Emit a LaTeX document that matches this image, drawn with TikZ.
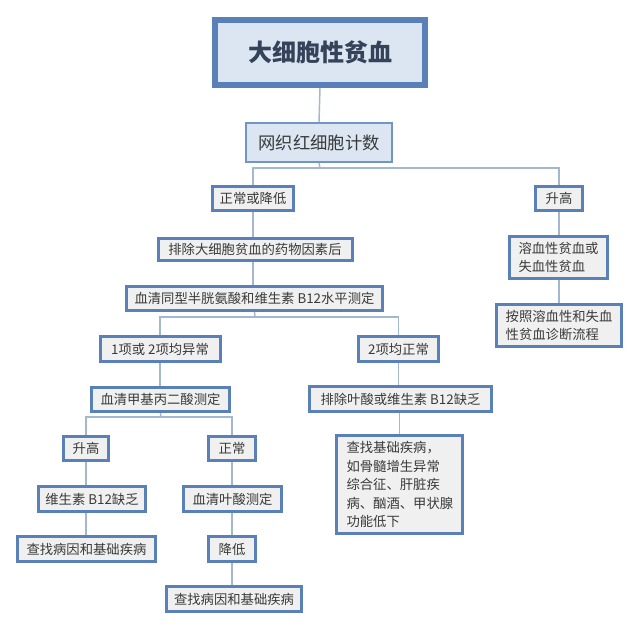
\documentclass[tikz,border=0pt]{standalone}
\usepackage{fontspec}
\newfontfamily\cjk{Noto Sans CJK SC}
\definecolor{bcol}{HTML}{5A80B8}
\definecolor{bcol2}{HTML}{7096C8}
\definecolor{fcol}{HTML}{F0F0F0}
\definecolor{tfill}{HTML}{DCE6F2}
\definecolor{tcol}{HTML}{3A3A3A}
\definecolor{ttcol}{HTML}{34425A}
\definecolor{ccol}{HTML}{A3B7CF}
\newcommand\pxu[1]{#1*0.75pt}
\begin{document}
\begin{tikzpicture}[x=0.75pt,y=-0.75pt,
  box/.style={draw=bcol, line width=2.25pt, fill=fcol, text=tcol, inner sep=0pt,
    font=\cjk\fontsize{10}{15}\selectfont},
  conn/.style={draw=ccol, line width=1.1pt}]
\useasboundingbox (0,0) rectangle (640,629);
\fill[white] (0,0) rectangle (640,629);

% nodes
\node[box, line width=4.5pt, fill=tfill, text=ttcol, minimum width=\pxu{210}, minimum height=\pxu{65},
  font=\cjk\bfseries\fontsize{18}{22}\selectfont] (title) at (320,52.5) {大细胞性贫血};
\node[box, line width=1.5pt, draw=bcol2, fill=tfill, minimum width=\pxu{146}, minimum height=\pxu{39},
  font=\cjk\fontsize{13}{16}\selectfont] (ret) at (319,142.5) {网织红细胞计数};

\node[box, minimum width=\pxu{81}, minimum height=\pxu{24}] (nd) at (253,198.5) {正常或降低};
\node[box, minimum width=\pxu{47}, minimum height=\pxu{24}] (up) at (559,198.5) {升高};
\node[box, minimum width=\pxu{194}, minimum height=\pxu{22}] (ex) at (255,249.5) {排除大细胞贫血的药物因素后};
\node[box, minimum width=\pxu{256}, minimum height=\pxu{24}] (hcy) at (254.5,298.5) {血清同型半胱氨酸和维生素 B12水平测定};

\node[box, minimum width=\pxu{120}, minimum height=\pxu{25}] (ab) at (160,349) {1项或 2项均异常};
\node[box, minimum width=\pxu{80}, minimum height=\pxu{25}] (nm) at (398.5,349) {2项均正常};

\node[box, minimum width=\pxu{138}, minimum height=\pxu{24}] (mma) at (160.5,399.5) {血清甲基丙二酸测定};
\node[box, minimum width=\pxu{182}, minimum height=\pxu{25}] (exf) at (400.5,399) {排除叶酸或维生素 B12缺乏};

\node[box, minimum width=\pxu{45}, minimum height=\pxu{24}] (up2) at (86,448.5) {升高};
\node[box, minimum width=\pxu{47}, minimum height=\pxu{24}] (nm2) at (232,448.5) {正常};

\node[box, minimum width=\pxu{107}, minimum height=\pxu{25}] (b12) at (92,499) {维生素 B12缺乏};
\node[box, minimum width=\pxu{98}, minimum height=\pxu{25}] (fol) at (232.5,499) {血清叶酸测定};

\node[box, minimum width=\pxu{138}, minimum height=\pxu{25}] (fc1) at (86.5,549) {查找病因和基础疾病};
\node[box, minimum width=\pxu{47}, minimum height=\pxu{25}] (dec) at (232,549) {降低};
\node[box, minimum width=\pxu{135}, minimum height=\pxu{25}] (fc2) at (234,599) {查找病因和基础疾病};

\node[box, minimum width=\pxu{126}, minimum height=\pxu{98}, align=left,
  text width=\pxu{106}, font=\cjk\fontsize{10}{13.9}\selectfont] (bd) at (399.5,484.5)
  {查找基础疾病，\\如骨髓增生异常\\综合征、肝脏疾\\病、酗酒、甲状腺\\功能低下};

\node[box, minimum width=\pxu{98}, minimum height=\pxu{42}, align=left,
  font=\cjk\fontsize{10}{13.5}\selectfont] (hem) at (558.5,257.5) {溶血性贫血或\\失血性贫血};
\node[box, minimum width=\pxu{125}, minimum height=\pxu{42}, align=left,
  font=\cjk\fontsize{10}{13.5}\selectfont] (fl) at (559,325.5) {按照溶血性和失血\\性贫血诊断流程};

% junction coordinates
\coordinate (j1) at (320,168);
\coordinate (j2) at (255,317);
\coordinate (j3) at (161,417);

% connectors
\draw[conn] (title.south) -- (ret.north);
\draw[conn] (ret.south) -- (j1);
\draw[conn] (nd.north) -- (nd.north |- j1) -- (up.north |- j1) -- (up.north);
\draw[conn] (nd.south) -- (nd.south |- ex.north);
\draw[conn] (ex.south -| nd.south) -- (nd.south |- hcy.north);
\draw[conn] (hcy.south) -- (j2);
\draw[conn] (ab.north) -- (ab.north |- j2) -- (nm.north |- j2) -- (nm.north);
\draw[conn] (ab.south) -- (ab.south |- mma.north);
\draw[conn] (mma.south) -- (j3);
\draw[conn] (up2.north) -- (up2.north |- j3) -- (nm2.north |- j3) -- (nm2.north);
\draw[conn] (up2.south) -- (up2.south |- b12.north);
\draw[conn] (b12.south -| up2.south) -- (up2.south |- fc1.north);
\draw[conn] (nm2.south) -- (fol.north -| nm2.south);
\draw[conn] (fol.south -| nm2.south) -- (dec.north);
\draw[conn] (dec.south) -- (dec.south |- fc2.north);
\draw[conn] (nm.south) -- (nm.south |- exf.north);
\draw[conn] (exf.south -| bd.north) -- (bd.north);
\draw[conn] (up.south) -- (up.south |- hem.north);
\draw[conn] (hem.south -| up.south) -- (up.south |- fl.north);
\end{tikzpicture}
\end{document}
